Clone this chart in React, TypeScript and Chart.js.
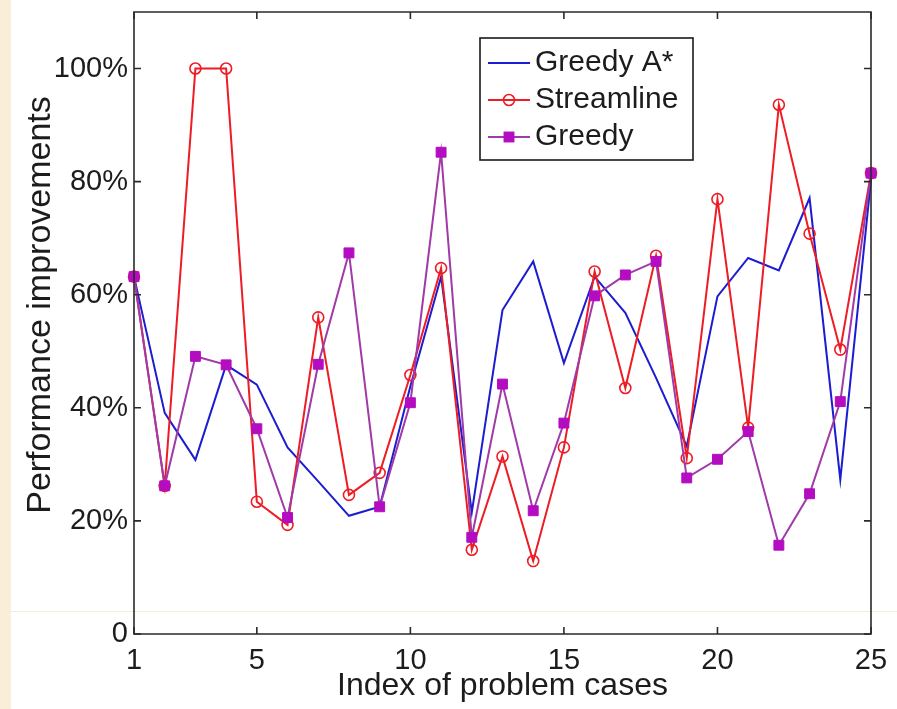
import React, { useEffect, useRef } from 'react';
import { Chart, registerables } from 'chart.js';

Chart.register(...registerables);

// ---- data ----
const cases = [1, 2, 3, 4, 5, 6, 7, 8, 9, 10, 11, 12, 13, 14, 15, 16, 17, 18, 19, 20, 21, 22, 23, 24, 25];
const greedyAStar = [63.2, 39.1, 30.8, 47.6, 44.1, 33.0, 27.0, 20.9, 22.5, 43.8, 63.2, 21.5, 57.3, 65.9, 47.9, 63.2, 56.8, 45.3, 33.2, 59.7, 66.5, 64.3, 77.1, 27.3, 80.4];
const streamline = [63.2, 26.2, 100, 100, 23.4, 19.3, 56.0, 24.6, 28.5, 45.8, 64.7, 14.9, 31.4, 12.9, 33.0, 64.1, 43.5, 66.9, 31.1, 76.9, 36.5, 93.6, 70.8, 50.3, 81.5];
const greedy = [63.2, 26.2, 49.1, 47.6, 36.3, 20.6, 47.7, 67.4, 22.5, 40.9, 85.2, 17.1, 44.2, 21.8, 37.3, 59.8, 63.5, 65.9, 27.6, 30.9, 35.8, 15.7, 24.8, 41.1, 81.5];
const seriesNames = ['Greedy A*', 'Streamline', 'Greedy'];
const xTicks = [1, 5, 10, 15, 20, 25];
const yTicks = [0, 20, 40, 60, 80, 100];
const xTitle = 'Index of problem cases';
const yTitle = 'Performance improvements';

const FONT = "'Liberation Sans', Arial, Helvetica, sans-serif";
const TEXT = '#1c1c1c';
const BLUE = '#1c1cd0';
const RED = '#ee1c24';
const PURPLE_LINE = '#a03aa8';
const PURPLE_FILL = '#b40cc0';

const toPoints = (vals: number[]) => vals.map((v, i) => ({ x: cases[i], y: v }));

const axesBoxPlugin = {
  id: 'axesBox',
  afterDraw(chart: any) {
    const { ctx, chartArea } = chart;
    const { left, right, top, bottom } = chartArea;
    const xs = chart.scales.x;
    const ys = chart.scales.y;
    const tl = 7;
    ctx.save();
    ctx.strokeStyle = '#2a2a2a';
    ctx.lineWidth = 1.6;
    ctx.beginPath();
    ctx.rect(left, top, right - left, bottom - top);
    ctx.stroke();
    ctx.beginPath();
    xs.ticks.forEach((t: any) => {
      const px = xs.getPixelForValue(t.value);
      ctx.moveTo(px, bottom);
      ctx.lineTo(px, bottom - tl);
      ctx.moveTo(px, top);
      ctx.lineTo(px, top + tl);
    });
    ys.ticks.forEach((t: any) => {
      const py = ys.getPixelForValue(t.value);
      ctx.moveTo(left, py);
      ctx.lineTo(left + tl, py);
      ctx.moveTo(right, py);
      ctx.lineTo(right - tl, py);
    });
    ctx.stroke();
    // y-axis title
    const o = chart.options.plugins.yTitleText;
    if (o) {
      ctx.translate(o.x, o.y);
      ctx.rotate(-Math.PI / 2);
      ctx.font = `${o.fontSize}px ${FONT}`;
      ctx.fillStyle = TEXT;
      ctx.textAlign = 'center';
      ctx.textBaseline = 'middle';
      ctx.fillText(o.text, 0, 0);
    }
    ctx.restore();
  },
};

const legendPlugin = {
  id: 'boxLegend',
  afterDraw(chart: any) {
    const o = chart.options.plugins.boxLegend;
    if (!o) return;
    const { ctx } = chart;
    ctx.save();
    ctx.fillStyle = '#ffffff';
    ctx.fillRect(o.x, o.y, o.w, o.h);
    ctx.strokeStyle = '#1a1a1a';
    ctx.lineWidth = 1.6;
    ctx.strokeRect(o.x, o.y, o.w, o.h);
    ctx.font = `${o.fontSize}px ${FONT}`;
    ctx.textBaseline = 'middle';
    ctx.textAlign = 'left';
    chart.data.datasets.forEach((ds: any, i: number) => {
      const cy = o.y + o.firstRow + i * o.rowGap;
      const x0 = o.x + o.lineStart;
      const x1 = x0 + o.lineLen;
      ctx.strokeStyle = ds.borderColor;
      ctx.lineWidth = ds.borderWidth;
      ctx.beginPath();
      ctx.moveTo(x0, cy);
      ctx.lineTo(x1, cy);
      ctx.stroke();
      const mx = (x0 + x1) / 2;
      if (ds.pointRadius > 0) {
        if (ds.pointStyle === 'circle') {
          ctx.strokeStyle = ds.pointBorderColor;
          ctx.lineWidth = ds.pointBorderWidth;
          ctx.beginPath();
          ctx.arc(mx, cy, ds.pointRadius, 0, Math.PI * 2);
          ctx.stroke();
        } else {
          const s = ds.pointRadius * Math.SQRT1_2;
          ctx.fillStyle = ds.pointBackgroundColor;
          ctx.fillRect(mx - s, cy - s, 2 * s, 2 * s);
          ctx.strokeStyle = ds.pointBorderColor;
          ctx.lineWidth = ds.pointBorderWidth;
          ctx.strokeRect(mx - s, cy - s, 2 * s, 2 * s);
        }
      }
      ctx.fillStyle = TEXT;
      ctx.fillText(ds.label, x1 + o.textGap, cy);
    });
    ctx.restore();
  },
};

export default function App() {
  const ref = useRef<HTMLCanvasElement | null>(null);
  useEffect(() => {
    if (!ref.current) return;
    const chart = new Chart(ref.current, {
      type: 'line',
      data: {
        datasets: [
          {
            label: seriesNames[0],
            data: toPoints(greedyAStar),
            borderColor: BLUE,
            borderWidth: 2,
            pointRadius: 0,
            pointStyle: 'circle',
            tension: 0,
            clip: false,
            order: 2,
          },
          {
            label: seriesNames[1],
            data: toPoints(streamline),
            borderColor: RED,
            borderWidth: 2,
            pointRadius: 5.5,
            pointStyle: 'circle',
            pointBackgroundColor: 'rgba(0,0,0,0)',
            pointBorderColor: RED,
            pointBorderWidth: 1.6,
            tension: 0,
            clip: false,
            order: 1,
          },
          {
            label: seriesNames[2],
            data: toPoints(greedy),
            borderColor: PURPLE_LINE,
            borderWidth: 2,
            pointRadius: 7,
            pointStyle: 'rect',
            pointBackgroundColor: PURPLE_FILL,
            pointBorderColor: PURPLE_FILL,
            pointBorderWidth: 1,
            tension: 0,
            clip: false,
            order: 0,
          },
        ] as any,
      },
      options: {
        animation: false,
        responsive: false,
        devicePixelRatio: 1,
        events: [],
        layout: { padding: { left: 0, top: 12, right: 26, bottom: 0 } },
        plugins: {
          legend: { display: false },
          tooltip: { enabled: false },
          boxLegend: {
            x: 480, y: 38, w: 213, h: 122,
            firstRow: 25, rowGap: 37,
            lineStart: 8, lineLen: 42, textGap: 5,
            fontSize: 30,
          },
          yTitleText: { text: yTitle, x: 41, y: 305, fontSize: 34 },
        } as any,
        scales: {
          x: {
            type: 'linear',
            min: 1,
            max: 25,
            afterBuildTicks: (s: any) => {
              s.ticks = xTicks.map((v) => ({ value: v }));
            },
            afterFit: (s: any) => {
              s.height = 75;
              s.paddingLeft = 0;
              s.paddingRight = 0;
            },
            grid: { display: false, drawTicks: false },
            border: { display: false },
            ticks: {
              padding: 10,
              color: TEXT,
              font: { family: FONT, size: 29 },
              maxRotation: 0,
              autoSkip: false,
            },
            title: {
              display: true,
              text: xTitle,
              color: TEXT,
              font: { family: FONT, size: 32 },
              padding: { top: 0, bottom: 4 },
            },
          },
          y: {
            type: 'linear',
            min: 0,
            max: 110,
            afterBuildTicks: (s: any) => {
              s.ticks = yTicks.map((v) => ({ value: v }));
            },
            afterFit: (s: any) => {
              s.width = 134;
              s.paddingTop = 0;
              s.paddingBottom = 0;
            },
            grid: { display: false, drawTicks: false },
            border: { display: false },
            ticks: {
              padding: 6,
              color: TEXT,
              font: { family: FONT, size: 29 },
              callback: (v: any) => (v === 0 ? '0' : `${v}%`),
            },
            title: { display: false },
          },
        },
      } as any,
      plugins: [axesBoxPlugin, legendPlugin],
    });
    return () => chart.destroy();
  }, []);

  return (
    <div
      style={{
        position: 'absolute',
        left: 0,
        top: 0,
        width: 897,
        height: 709,
        background:
          'linear-gradient(#f6ecdc, #f6ecdc) 0 611px / 100% 1px no-repeat, linear-gradient(to right, #fbeed9 0px, #fbeed9 11px, #ffffff 11px)',
      }}
    >
      <canvas ref={ref} width={897} height={709} style={{ display: 'block' }} />
    </div>
  );
}
